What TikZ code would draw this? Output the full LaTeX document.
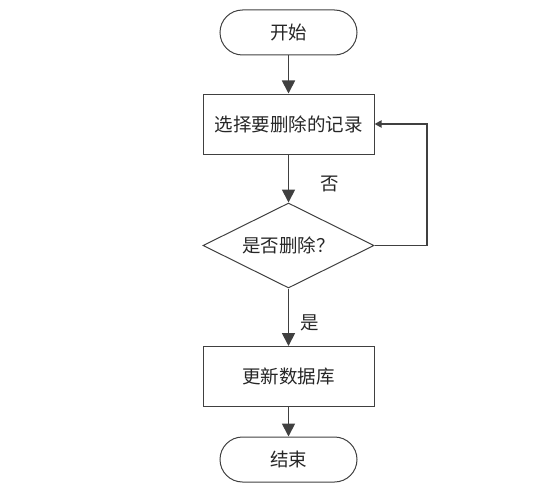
\documentclass[tikz,border=0pt]{standalone}
\usepackage{fontspec}
\newfontfamily\cjk{Noto Sans CJK SC}
\usetikzlibrary{shapes.geometric,arrows.meta}
\definecolor{lc}{HTML}{404040}
\begin{document}
\begin{tikzpicture}[x=1pt,y=-1pt,
  every node/.style={font=\cjk\fontsize{18.5}{20}\selectfont,text=black!85},
  term/.style={draw=lc,line width=1pt,rounded corners=22.5pt,minimum width=137pt,minimum height=45pt,inner sep=0pt},
  proc/.style={draw=lc,line width=1pt,minimum width=171pt,minimum height=60pt,inner sep=0pt},
  dec/.style={draw=lc,line width=1pt,diamond,aspect=2,minimum width=171pt,minimum height=85pt,inner sep=0pt},
  conn/.style={draw=lc,line width=1.8pt,-{Triangle[width=13pt,length=13pt]}},
  back/.style={draw=lc,line width=1.8pt,-{Triangle[width=7pt,length=7pt]}},
  lbl/.style={inner sep=0pt}]
\useasboundingbox (0,0) rectangle (557,495);
\node[term] (start) at (288.5,32.5) {开始};
\node[proc] (sel) at (288.5,124) {选择要删除的记录};
\node[dec] (dec) at (288.5,245.5) {是否删除？};
\node[proc] (upd) at (288.5,376.5) {更新数据库};
\node[term] (end) at (288.5,459.5) {结束};
\coordinate (c1) at (427,245.5);
\coordinate (c2) at (427,124);
\draw[conn] (start) -- (sel);
\draw[conn] (sel) -- (dec);
\draw[conn] (dec) -- (upd);
\draw[conn] (upd) -- (end);
\draw[back] (dec.east) -- (c1) -- (c2) -- (sel.east);
\node[lbl] (no) at (330,184) {否};
\node[lbl] (yes) at (310,323) {是};
\end{tikzpicture}
\end{document}
